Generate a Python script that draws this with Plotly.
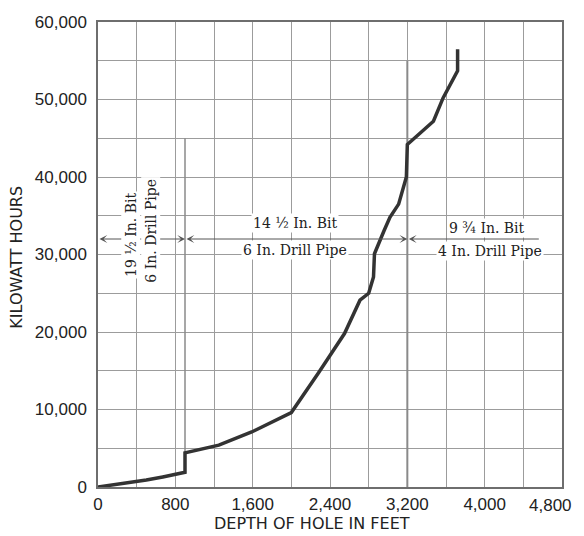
import plotly.graph_objects as go

# depth (ft) vs energy used (kWh)
depth_ft = [0, 230, 500, 670, 870, 900, 900, 1250, 1590, 2000, 2280, 2550, 2710,
            2800, 2850, 2860, 2960, 3020, 3110, 3160, 3190, 3200, 3470, 3570, 3720, 3720]
kwh = [0, 400, 900, 1300, 1800, 1900, 4400, 5400, 7100, 9600, 14700, 19800, 24100,
       25000, 27100, 30100, 33100, 34800, 36500, 38700, 40000, 44200, 47200, 50200, 53700, 56500]

# bit-change boundaries
boundary_depth = [900, 3200]
boundary_bottom = [1900, 0]
boundary_top = [45000, 55000]

arrow_level = 32000
arrow_right_end = 4560

x_ticks = [0, 800, 1600, 2400, 3200, 4000, 4800]
x_tick_text = ["0", "800", "1,600", "2,400", "3,200", "4,000", "4,800"]
y_ticks = [0, 10000, 20000, 30000, 40000, 50000, 60000]
y_tick_text = ["0", "10,000", "20,000", "30,000", "40,000", "50,000", "60,000"]

grid_col = "#9c9c9c"
ink = "#333333"
serif = dict(family="DejaVu Serif", size=14, color="#222222")
tick_font = dict(family="Liberation Sans", size=17, color="#222222")

fig = go.Figure()

# boundary lines
for bx, b0, b1, w in zip(boundary_depth, boundary_bottom, boundary_top, [1.5, 2]):
    fig.add_trace(go.Scatter(
        x=[bx, bx], y=[b0, b1], mode="lines",
        line=dict(color="#8a8a8a", width=w), hoverinfo="skip"
    ))

# kWh curve
fig.add_trace(go.Scatter(
    x=depth_ft, y=kwh, mode="lines",
    line=dict(color=ink, width=3.5)
))

annotations = []

# dimension arrows
spans = [(0, boundary_depth[0], "end+start"),
         (boundary_depth[0], boundary_depth[1], "end+start"),
         (boundary_depth[1], arrow_right_end, "start")]
for x0, x1, side in spans:
    annotations.append(dict(
        x=x1, y=arrow_level, ax=x0, ay=arrow_level, xref="x", yref="y",
        axref="x", ayref="y", text="", showarrow=True, arrowside=side,
        arrowhead=3, startarrowhead=3, arrowsize=1.3, startarrowsize=1.3,
        arrowwidth=1, arrowcolor="#555555", standoff=0, startstandoff=0
    ))

# section labels
labels = [
    ("19 ½ In. Bit", 340, 32500, -90),
    ("6 In. Drill Pipe", 550, 33100, -90),
    ("14 ½ In. Bit", 2040, 34100, 0),
    ("6 In. Drill Pipe", 2040, 30600, 0),
    ("9 ¾ In. Bit", 4020, 33400, 0),
    ("4 In. Drill Pipe", 4050, 30500, 0),
]
for txt, lx, ly, ang in labels:
    annotations.append(dict(
        x=lx, y=ly, xref="x", yref="y", text=txt, showarrow=False,
        textangle=ang, font=serif, bgcolor="white", borderpad=1
    ))

# last x tick label sits at the window edge, so it is right-aligned instead of centred
annotations.append(dict(
    x=x_ticks[-1], y=0, xref="x", yref="paper", text=x_tick_text[-1],
    showarrow=False, font=tick_font, xanchor="right", yanchor="top",
    xshift=12, yshift=-7
))

# axis titles
sans = dict(family="DejaVu Sans", size=16, color="#222222")
annotations.append(dict(
    x=0.461, y=-0.079, xref="paper", yref="paper", text="DEPTH OF HOLE IN FEET",
    showarrow=False, font=sans, xanchor="center", yanchor="middle"
))
annotations.append(dict(
    x=-0.175, y=0.495, xref="paper", yref="paper", text="KILOWATT HOURS",
    showarrow=False, font=sans, textangle=-90, xanchor="center", yanchor="middle"
))

axis_common = dict(
    showgrid=True, gridcolor=grid_col, gridwidth=1,
    showline=True, linecolor="#6e6e6e", linewidth=1.5, mirror=True,
    zeroline=False, ticks="", automargin=False,
    ticklabeloverflow="allow", tickfont=tick_font,
)

# page body adds an 8px offset, so the figure is sized to the visible area
fig.update_layout(
    width=576, height=528,
    margin=dict(l=90, r=22, t=14, b=49),
    paper_bgcolor="white", plot_bgcolor="white",
    showlegend=False,
    annotations=annotations,
    xaxis=dict(
        range=[0, 4800], tickvals=x_ticks[:-1], ticktext=x_tick_text[:-1],
        ticklabelstandoff=1,
        minor=dict(dtick=400, showgrid=True, gridcolor=grid_col, gridwidth=1),
        **axis_common
    ),
    yaxis=dict(
        range=[0, 60000], tickvals=y_ticks, ticktext=y_tick_text,
        ticklabelstandoff=6,
        minor=dict(dtick=5000, showgrid=True, gridcolor=grid_col, gridwidth=1),
        **axis_common
    ),
)

fig.write_html("out.html")
